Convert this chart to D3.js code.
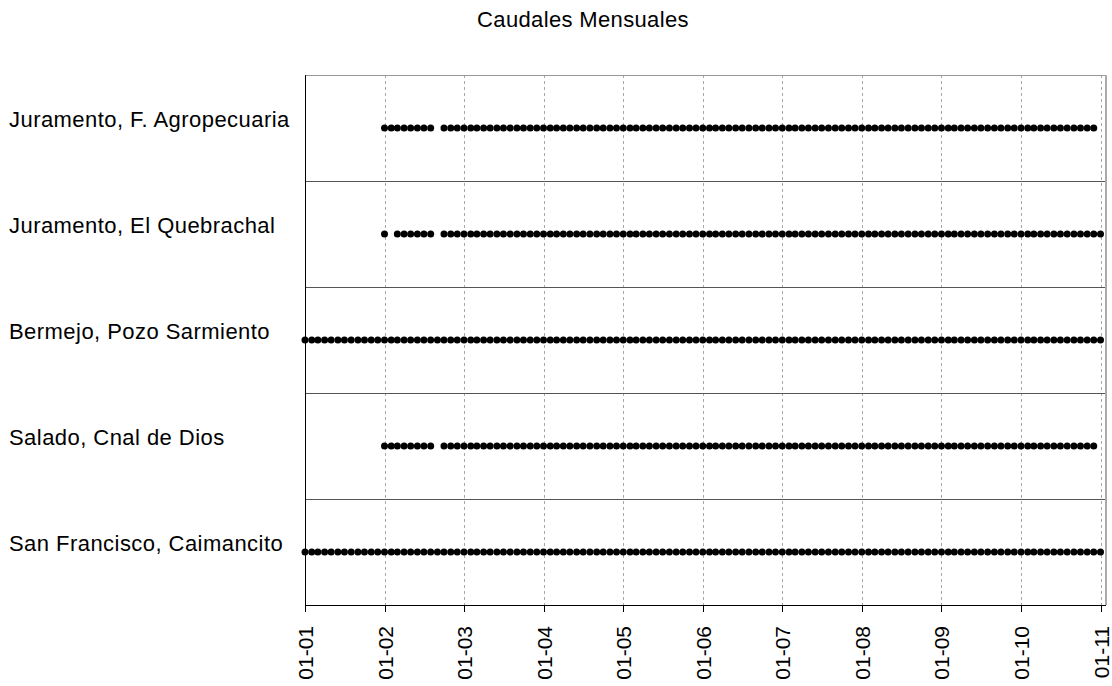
<!DOCTYPE html>
<html>
<head>
<meta charset="utf-8">
<script src="https://cdn.jsdelivr.net/npm/d3@7"></script>
<style>
  body { margin: 0; background: #fff; }
  text { font-family: "Liberation Sans", Arial, sans-serif; fill: #000; }
</style>
</head>
<body>
<svg id="chart" width="1112" height="686"></svg>
<script>
// Stations, top to bottom.
const stations = [
    "Juramento, F. Agropecuaria",
    "Juramento, El Quebrachal",
    "Bermejo, Pozo Sarmiento",
    "Salado, Cnal de Dios",
    "San Francisco, Caimancito"
];

// Months with records, as [first, last] periods (inclusive).
const periods = [
    [["2002-01", "2002-08"], ["2002-10", "2010-12"]],
    [["2002-01", "2002-01"], ["2002-03", "2002-08"], ["2002-10", "2011-01"]],
    [["2001-01", "2011-01"]],
    [["2002-01", "2002-08"], ["2002-10", "2010-12"]],
    [["2001-01", "2011-01"]]
];

// Tick labels on the time axis.
const tickLabels = ["01-01", "01-02", "01-03", "01-04", "01-05", "01-06",
                    "01-07", "01-08", "01-09", "01-10", "01-11"];
const tickYears = [2001, 2002, 2003, 2004, 2005, 2006, 2007, 2008, 2009, 2010, 2011];

const svg = d3.select("#chart");

const plotLeft = 305, plotRight = 1105, plotTop = 75, plotBottom = 605;

const parseMonth = d3.timeParse("%Y-%m");

const x = d3.scaleTime()
    .domain([new Date(2001, 0, 1), new Date(2011, 0, 1)])
    .range([plotLeft, 1100.5]);

const y = d3.scaleBand()
    .domain(stations)
    .range([plotTop, plotBottom]);

// Build the monthly points from the periods.
let points = [];
stations.forEach(function(s, i) {
    periods[i].forEach(function(p) {
        let start = parseMonth(p[0]);
        let end = d3.timeMonth.offset(parseMonth(p[1]), 1);
        d3.timeMonth.range(start, end).forEach(function(d) {
            points.push({station: s, date: d});
        });
    });
});

// Title.
svg.append("text")
    .attr("x", 583)
    .attr("y", 27)
    .attr("text-anchor", "middle")
    .style("font-size", "22px")
    .style("letter-spacing", "0.35px")
    .text("Caudales Mensuales");

// Vertical dashed grid.
svg.append("g")
    .selectAll("line")
    .data(tickYears)
    .join("line")
    .attr("x1", d => Math.round(x(new Date(d, 0, 1))) + 0.5)
    .attr("x2", d => Math.round(x(new Date(d, 0, 1))) + 0.5)
    .attr("y1", plotTop)
    .attr("y2", plotBottom)
    .attr("stroke", "#a8a8a8")
    .attr("stroke-dasharray", "3,3");

// Panel separators.
svg.append("g")
    .selectAll("line")
    .data(stations.slice(1))
    .join("line")
    .attr("x1", plotLeft)
    .attr("x2", plotRight)
    .attr("y1", d => Math.round(y(d)) + 0.5)
    .attr("y2", d => Math.round(y(d)) + 0.5)
    .attr("stroke", "#555")
    .attr("stroke-width", 1.2);

// Frame: gray top and right, black left and bottom.
svg.append("line")
    .attr("x1", plotLeft).attr("x2", plotRight + 1)
    .attr("y1", plotTop + 0.5).attr("y2", plotTop + 0.5)
    .attr("stroke", "#999");
svg.append("line")
    .attr("x1", plotRight + 1).attr("x2", plotRight + 1)
    .attr("y1", plotTop).attr("y2", plotBottom)
    .attr("stroke", "#aaa")
    .attr("stroke-width", 2);

// Dots.
svg.append("g")
    .selectAll("circle")
    .data(points)
    .join("circle")
    .attr("cx", d => x(d.date))
    .attr("cy", d => y(d.station) + y.bandwidth() / 2)
    .attr("r", 3.5)
    .attr("fill", "#000");

// Left and bottom axis lines.
svg.append("line")
    .attr("x1", plotLeft + 0.5).attr("x2", plotLeft + 0.5)
    .attr("y1", plotTop).attr("y2", plotBottom + 0.5)
    .attr("stroke", "#000");
svg.append("line")
    .attr("x1", plotLeft).attr("x2", plotRight + 1)
    .attr("y1", plotBottom + 0.5).attr("y2", plotBottom + 0.5)
    .attr("stroke", "#000");

// Station labels.
svg.append("g")
    .selectAll("text")
    .data(stations)
    .join("text")
    .attr("x", 9)
    .attr("y", d => y(d) + y.bandwidth() / 2 - 1)
    .style("font-size", "22px")
    .style("letter-spacing", "0.45px")
    .text(d => d);

// Bottom ticks and rotated labels.
let ticks = svg.append("g")
    .selectAll("g")
    .data(tickYears)
    .join("g")
    .attr("transform", d => "translate(" + (Math.round(x(new Date(d, 0, 1))) + 0.5) + "," + plotBottom + ")");

ticks.append("line")
    .attr("y1", 0)
    .attr("y2", 7)
    .attr("stroke", "#000");

ticks.append("text")
    .attr("transform", "translate(0,21) rotate(-90)")
    .attr("text-anchor", "end")
    .attr("dy", "0.36em")
    .style("font-size", "21px")
    .text((d, i) => tickLabels[i]);
</script>
</body>
</html>
